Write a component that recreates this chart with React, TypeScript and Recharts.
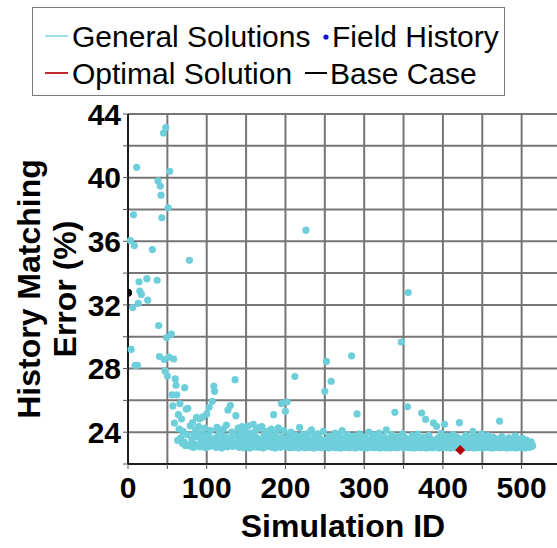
import { ScatterChart, Scatter, XAxis, YAxis, CartesianGrid } from "recharts";

const FONT = '"Liberation Sans", Arial, sans-serif';
const GENERAL_COLOR = "#6ECFDA";
const OPTIMAL_COLOR = "#B00000";
const GRID_COLOR = "#767676";

// early exploration runs (sparse, high error)
const earlyIds = [3, 4, 6, 7, 8, 9, 11, 12, 13, 14, 15, 17, 24, 25, 31, 37, 38, 39, 40, 41, 42, 43, 45, 46, 47, 48, 49, 50, 51, 52, 53, 55, 56, 57, 58, 59];
const earlyErrors = [36.05, 29.2, 31.83, 37.66, 35.73, 28.2, 40.65, 28.2, 32.1, 33.45, 32.87, 32.66, 33.65, 32.3, 35.48, 33.55, 39.8, 30.7, 28.75, 39.47, 38.9, 37.48, 42.8, 28.57, 27.85, 43.15, 29.95, 27.53, 38.1, 28.72, 40.4, 30.17, 26.35, 25.65, 28.6, 24.57];

// converged runs, one value per simulation id starting at FIRST_BAND_ID
const FIRST_BAND_ID = 60;
const bandErrors = [
  27.35, 26.95, 26.35, 23.48, 25.10, 24.20, 25.80, 23.65, 24.83, 23.30, // 60
  24.05, 23.40, 26.80, 23.15, 25.45, 23.85, 25.50, 23.20, 34.80, 24.40, // 70
  23.10, 23.55, 24.60, 23.05, 23.90, 23.25, 24.15, 24.93, 23.12, 23.70, // 80
  24.35, 24.83, 23.08, 23.45, 23.95, 24.96, 23.18, 23.60, 24.25, 23.02, // 90
  25.15, 23.35, 23.80, 25.56, 23.10, 24.10, 23.50, 25.94, 23.22, 26.90, // 100
  26.57, 23.65, 23.05, 24.30, 23.40, 23.15, 23.90, 24.05, 23.28, 23.00, // 110
  23.55, 24.20, 23.12, 23.75, 23.35, 24.45, 23.08, 25.40, 23.60, 23.20, // 120
  25.67, 23.45, 24.00, 23.10, 23.85, 23.30, 27.30, 25.04, 23.15, 23.70, // 130
  24.25, 23.05, 23.50, 23.92, 23.18, 24.35, 23.40, 23.02, 23.65, 24.10, // 140
  23.25, 23.80, 23.10, 24.40, 23.55, 23.00, 23.35, 23.95, 23.15, 24.50, // 150
  23.45, 23.08, 23.70, 24.15, 23.22, 23.60, 23.05, 24.30, 23.38, 23.12, // 160
  24.35, 23.55, 23.00, 23.85, 23.30, 24.05, 23.15, 23.48, 23.90, 23.10, // 170
  23.65, 23.25, 24.20, 23.05, 23.75, 25.10, 23.40, 23.00, 23.95, 23.20, // 180
  23.58, 24.28, 23.12, 23.44, 23.05, 25.80, 23.70, 23.18, 24.10, 23.35, // 190
  25.31, 23.08, 25.90, 23.50, 23.22, 23.88, 23.02, 24.00, 23.40, 23.15, // 200
  23.62, 23.05, 27.50, 23.30, 23.78, 23.10, 23.45, 23.00, 24.30, 23.25, // 210
  23.55, 23.08, 23.85, 23.18, 23.40, 23.02, 36.70, 23.65, 23.12, 23.95, // 220
  23.28, 23.05, 23.50, 24.15, 23.15, 23.38, 23.00, 23.72, 23.22, 23.10, // 230
  23.48, 23.90, 23.05, 23.30, 23.60, 23.12, 23.02, 23.42, 24.05, 23.20, // 240
  26.57, 23.08, 28.45, 23.55, 23.25, 23.00, 23.75, 23.15, 27.20, 23.35, // 250
  23.05, 23.62, 23.18, 23.95, 23.28, 23.02, 23.45, 23.10, 23.80, 23.22, // 260
  23.00, 23.50, 24.10, 23.15, 23.35, 23.05, 23.68, 23.20, 23.08, 23.85, // 270
  23.30, 23.02, 23.55, 23.12, 28.80, 23.40, 23.05, 23.75, 23.18, 23.00, // 280
  23.48, 25.15, 23.10, 23.28, 23.90, 23.05, 23.38, 23.15, 23.60, 23.02, // 290
  23.25, 23.70, 23.08, 23.45, 23.00, 23.18, 24.00, 23.30, 23.12, 23.55, // 300
  23.05, 23.82, 23.20, 23.02, 23.40, 23.15, 23.65, 23.08, 23.28, 23.95, // 310
  23.00, 23.50, 23.12, 23.35, 23.05, 23.72, 23.22, 23.02, 24.15, 23.18, // 320
  23.42, 23.08, 23.60, 23.00, 23.25, 23.85, 23.10, 23.38, 23.05, 25.25, // 330
  23.55, 23.15, 23.02, 23.70, 23.28, 23.08, 23.45, 29.67, 23.12, 23.90, // 340
  23.00, 23.35, 23.20, 23.62, 23.05, 25.60, 32.78, 23.15, 23.48, 23.02, // 350
  23.30, 23.78, 23.10, 23.40, 23.00, 23.58, 23.18, 23.05, 23.88, 23.25, // 360
  23.12, 23.50, 23.02, 25.20, 23.35, 23.08, 23.68, 23.20, 24.80, 23.00, // 370
  23.42, 23.15, 23.80, 23.05, 23.30, 23.55, 23.10, 23.02, 24.58, 23.22, // 380
  23.48, 23.08, 24.37, 23.15, 23.65, 23.00, 23.35, 23.18, 23.92, 23.05, // 390
  23.28, 23.55, 24.50, 23.10, 23.40, 23.02, 23.75, 23.20, 23.08, 23.60, // 400
  23.00, 23.32, 23.15, 23.85, 23.05, 23.45, 23.22, 23.02, 23.68, 23.12, // 410
  23.38, 24.60, 23.05, 23.25, 23.58, 23.00, 23.15, 23.42, 23.08, 23.80, // 420
  23.20, 23.02, 23.50, 23.10, 23.30, 23.65, 23.05, 23.18, 24.05, 23.00, // 430
  23.45, 23.12, 23.72, 23.25, 23.02, 23.38, 23.08, 23.55, 23.15, 23.90, // 440
  23.00, 23.30, 23.18, 23.62, 23.05, 23.42, 23.10, 23.78, 23.22, 23.02, // 450
  23.50, 23.12, 23.35, 23.00, 23.68, 23.15, 23.28, 23.05, 23.58, 23.20, // 460
  23.08, 23.45, 24.70, 23.02, 23.32, 23.72, 23.10, 23.25, 23.05, 23.52, // 470
  23.18, 23.00, 23.40, 23.12, 23.65, 23.05, 23.30, 23.22, 23.02, 23.48, // 480
  23.10, 23.35, 23.75, 23.00, 23.28, 23.15, 23.55, 23.05, 23.42, 23.20, // 490
  23.02, 23.62, 23.12, 23.38, 23.00, 23.25, 23.50, 23.08, 23.18, 23.30, // 500
  23.05, 23.22, 23.40, 23.10, 23.15, // 510
];

const optimalIds = [422];
const optimalErrors = [22.88];
const baseCaseIds = [0];
const baseCaseErrors = [32.76];

const xTicks = [0, 50, 100, 150, 200, 250, 300, 350, 400, 450, 500, 550];
const yTicks = [22, 24, 26, 28, 30, 32, 34, 36, 38, 40, 42, 44];

const generalData = [
  ...earlyIds.map((id, i) => ({ id, err: earlyErrors[i] })),
  ...bandErrors.map((err, i) => ({ id: FIRST_BAND_ID + i, err })),
];
const optimalData = optimalIds.map((id, i) => ({ id, err: optimalErrors[i] }));
const baseCaseData = baseCaseIds.map((id, i) => ({ id, err: baseCaseErrors[i] }));

const tickStyle = { fontSize: 30, fontWeight: 700, fill: "#000", fontFamily: FONT };

const GeneralDot = (p: any) => <circle cx={p.cx} cy={p.cy} r={3.6} fill={GENERAL_COLOR} />;
// only the half inside the plot shows in the original
const BaseDot = (p: any) => <path d={`M${p.cx},${p.cy - 4} A4,4 0 0 1 ${p.cx},${p.cy + 4} Z`} fill="#000" />;
const Diamond = (p: any) => {
  const s = 5;
  return <polygon points={`${p.cx},${p.cy - s} ${p.cx + s},${p.cy} ${p.cx},${p.cy + s} ${p.cx - s},${p.cy}`} fill={OPTIMAL_COLOR} />;
};

const YTitle = () => (
  <text transform="translate(0,289) rotate(-90)" textAnchor="middle" style={{ fontSize: 32, fontWeight: 700, fontFamily: FONT }} fill="#000">
    <tspan x={0} y={40}>History Matching</tspan>
    <tspan x={0} y={76}>Error (%)</tspan>
  </text>
);

const XTitle = () => (
  <text x={343} y={537} textAnchor="middle" style={{ fontSize: 32, fontWeight: 700, fontFamily: FONT }} fill="#000">
    Simulation ID
  </text>
);

function LegendBox() {
  const txt = { fontSize: 30, fontFamily: FONT, fill: "#000" } as const;
  return (
    <svg width={557} height={100} style={{ position: "absolute", left: 0, top: 0, pointerEvents: "none" }}>
      <rect x={32.5} y={7.5} width={472} height={88} fill="#fff" stroke="#7a7a7a" strokeWidth={1} />
      <line x1={45} x2={68} y1={36} y2={36} stroke="#9EDDE6" strokeWidth={2} />
      <text x={72} y={47} style={txt}>General Solutions</text>
      <circle cx={326} cy={37} r={2.6} fill="#1010E0" />
      <text x={332} y={47} style={txt}>Field History</text>
      <line x1={45} x2={68} y1={73} y2={73} stroke="#C0282D" strokeWidth={2} />
      <text x={72} y={84} style={txt}>Optimal Solution</text>
      <line x1={305} x2={327} y1={73} y2={73} stroke="#000" strokeWidth={2} />
      <text x={330} y={84} style={txt}>Base Case</text>
    </svg>
  );
}

export default function App() {
  return (
    <div style={{ position: "absolute", left: 0, top: 0, width: 557, height: 548, overflow: "hidden", background: "#fff" }}>
      <ScatterChart width={564} height={548} margin={{ top: 114, right: 3, bottom: 0, left: 0 }}>
        <CartesianGrid stroke={GRID_COLOR} strokeWidth={2} horizontalValues={yTicks} verticalValues={xTicks} />
        <XAxis
          type="number"
          dataKey="id"
          domain={[0, 550]}
          ticks={xTicks}
          interval={0}
          height={84}
          tick={tickStyle}
          tickSize={5}
          tickMargin={8}
          tickFormatter={(v: number) => (v % 100 === 0 && v <= 500 ? String(v) : "")}
          axisLine={{ stroke: "#000", strokeWidth: 1.5 }}
          tickLine={{ stroke: "#555" }}
          label={<XTitle />}
        />
        <YAxis
          type="number"
          dataKey="err"
          domain={[22, 44]}
          ticks={yTicks}
          interval={0}
          width={128}
          tick={tickStyle}
          tickSize={5}
          tickMargin={2}
          tickFormatter={(v: number) => (v % 4 === 0 ? String(v) : "")}
          axisLine={{ stroke: "#000", strokeWidth: 1.5 }}
          tickLine={{ stroke: "#555" }}
          label={<YTitle />}
        />
        <Scatter data={generalData} shape={GeneralDot} isAnimationActive={false} />
        <Scatter data={baseCaseData} shape={BaseDot} isAnimationActive={false} />
        <Scatter data={optimalData} shape={Diamond} isAnimationActive={false} />
      </ScatterChart>
      <LegendBox />
    </div>
  );
}
